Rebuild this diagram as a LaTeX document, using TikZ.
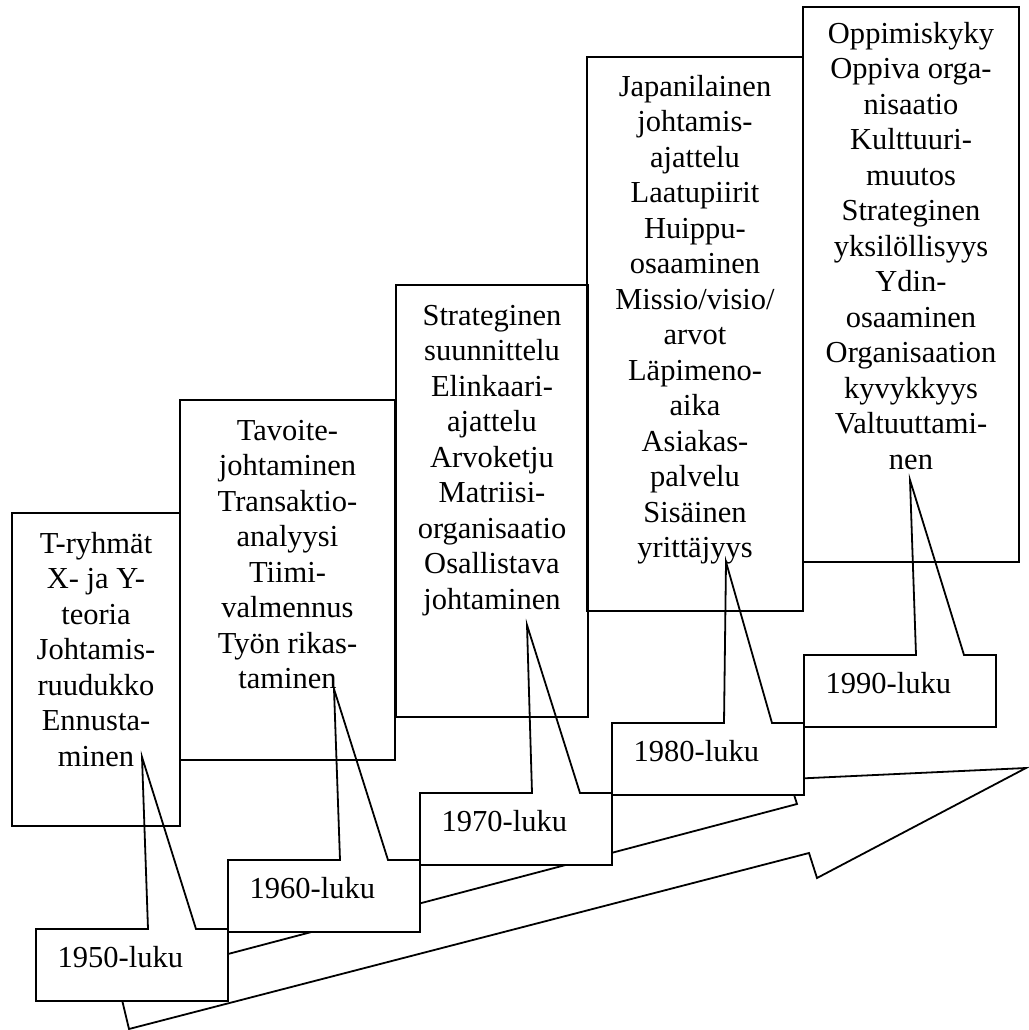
\documentclass[tikz,border=0pt]{standalone}
\usepackage{fontspec}
\setmainfont{Liberation Serif}
\usetikzlibrary{calc}
\tikzset{
  bigbox/.style={draw, line width=1.8pt, inner sep=0pt, outer sep=0pt, anchor=north west},
  bigtxt/.style={align=center, inner sep=0pt, anchor=north, font=\fontsize{30.5}{35.5}\selectfont},
  yearbox/.style={fill=white, inner sep=0pt, outer sep=0pt, minimum width=192pt, minimum height=72pt, anchor=north west},
  yeartxt/.style={inner sep=0pt, anchor=base west, font=\fontsize{30.5}{35.5}\selectfont},
  outline/.style={line width=1.8pt, line join=miter},
}
\begin{document}
\begin{tikzpicture}[x=1pt,y=-1pt]
\useasboundingbox (0,0) rectangle (1028,1030);
\fill[white] (0,0) rectangle (1028,1030);

% big boxes
\node[bigbox, minimum width=168pt, minimum height=313pt] (b1) at (12,513) {};
\node[bigbox, minimum width=215pt, minimum height=360pt] (b2) at (180,400) {};
\node[bigbox, minimum width=192pt, minimum height=432pt] (b3) at (396,285) {};
\node[bigbox, minimum width=216pt, minimum height=554pt] (b4) at (587,57) {};
\node[bigbox, minimum width=216pt, minimum height=555pt] (b5) at (803,7) {};

\node[bigtxt] (t1) at ([yshift=-15pt]b1.north) {\strut T-ryhmät\\X- ja Y-\\teoria\\Johtamis-\\ruudukko\\Ennusta-\\minen};
\node[bigtxt] (t2) at ([yshift=-15pt]b2.north) {\strut Tavoite-\\johtaminen\\Transaktio-\\analyysi\\Tiimi-\\valmennus\\Työn rikas-\\taminen};
\node[bigtxt] (t3) at ([yshift=-15pt]b3.north) {\strut Strateginen\\suunnittelu\\Elinkaari-\\ajattelu\\Arvoketju\\Matriisi-\\organisaatio\\Osallistava\\johtaminen};
\node[bigtxt] (t4) at ([yshift=-14pt]b4.north) {\strut Japanilainen\\johtamis-\\ajattelu\\Laatupiirit\\Huippu-\\osaaminen\\Missio/visio/\\arvot\\Läpimeno-\\aika\\Asiakas-\\palvelu\\Sisäinen\\yrittäjyys};
\node[bigtxt] (t5) at ([yshift=-11pt]b5.north) {\strut Oppimiskyky\\Oppiva orga-\\nisaatio\\Kulttuuri-\\muutos\\Strateginen\\yksilöllisyys\\Ydin-\\osaaminen\\Organisaation\\kyvykkyys\\Valtuuttami-\\nen};

% big arrow
\coordinate (a1) at (118,983);
\coordinate (a2) at (797,804);
\coordinate (a3) at (789,779);
\coordinate (a4) at (1026,768);
\coordinate (a5) at (817,878);
\coordinate (a6) at (809,853);
\coordinate (a7) at (129,1029);
\draw[outline, fill=white] (a1) -- (a2) -- (a3) -- (a4) -- (a5) -- (a6) -- (a7) -- cycle;

% year boxes (fills)
\node[yearbox] (y50) at (36,929) {};
\node[yearbox] (y60) at (228,860) {};
\node[yearbox] (y70) at (420,793) {};
\node[yearbox] (y80) at (612,723) {};
\node[yearbox] (y90) at (804,655) {};

% callout tips
\coordinate (p50) at (142,757);
\coordinate (p60) at (334,689);
\coordinate (p70) at (527,625);
\coordinate (p80) at (726,562);
\coordinate (p90) at (910,480);

% callout outlines
\foreach \y in {50,60,70,80,90}{
  \draw[outline] (y\y.north west) -- ($(y\y.north west)+(112,0)$) -- (p\y) -- ($(y\y.north west)+(160,0)$) -- (y\y.north east) -- (y\y.south east) -- (y\y.south west) -- cycle;
}

% year labels
\node[yeartxt] (l50) at ([xshift=21.5pt,yshift=-38.5pt]y50.north west) {1950-luku};
\node[yeartxt] (l60) at ([xshift=21.5pt,yshift=-38.5pt]y60.north west) {1960-luku};
\node[yeartxt] (l70) at ([xshift=21.5pt,yshift=-38.5pt]y70.north west) {1970-luku};
\node[yeartxt] (l80) at ([xshift=21.5pt,yshift=-38.5pt]y80.north west) {1980-luku};
\node[yeartxt] (l90) at ([xshift=21.5pt,yshift=-38.5pt]y90.north west) {1990-luku};
\end{tikzpicture}
\end{document}
